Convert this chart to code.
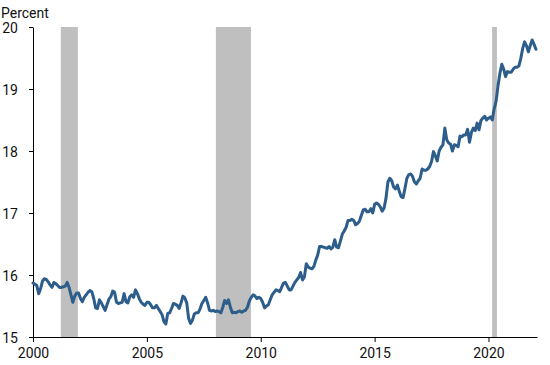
<!DOCTYPE html>
<html>
<head>
<meta charset="utf-8">
<script src="https://cdn.jsdelivr.net/npm/d3@7"></script>
<style>
  body { margin: 0; background: #fff; }
  text { font-family: Roboto, "Liberation Sans", sans-serif; fill: #111; }
</style>
</head>
<body>
<div id="chart"></div>
<script>
// monthly values, starting January 2000
const startYear = 2000;
const values2000s = [
  15.87, 15.85, 15.83, 15.70, 15.78, 15.90, 15.94, 15.93, 15.89, 15.84, 15.80, 15.88,
  15.86, 15.83, 15.80, 15.80, 15.81, 15.82, 15.88, 15.80, 15.68, 15.56, 15.66, 15.71,
  15.71, 15.62, 15.57, 15.64, 15.68, 15.72, 15.75, 15.73, 15.62, 15.47, 15.46, 15.60,
  15.55, 15.49, 15.43, 15.52, 15.61, 15.65, 15.74, 15.72, 15.56, 15.54, 15.55, 15.56,
  15.70, 15.57, 15.55, 15.65, 15.68, 15.64, 15.76, 15.70, 15.62, 15.56, 15.53, 15.51,
  15.56, 15.56, 15.52, 15.47, 15.47, 15.51, 15.46, 15.41, 15.36, 15.25, 15.21, 15.38,
  15.39, 15.46, 15.54, 15.53, 15.51, 15.46, 15.55, 15.66, 15.63, 15.55, 15.30, 15.22,
  15.27, 15.37, 15.39, 15.39, 15.45, 15.54, 15.59, 15.64, 15.55, 15.43, 15.42, 15.43,
  15.41, 15.42, 15.41, 15.39, 15.48, 15.59, 15.54, 15.60, 15.48, 15.39, 15.40, 15.39,
  15.41, 15.42, 15.40, 15.42, 15.43, 15.48, 15.58, 15.64, 15.68, 15.66, 15.62, 15.64
];
const values2010s = [
  15.62, 15.56, 15.47, 15.50, 15.52, 15.60, 15.68, 15.72, 15.76, 15.75, 15.73, 15.80,
  15.87, 15.88, 15.82, 15.76, 15.76, 15.82, 15.88, 15.92, 15.96, 16.04, 15.92, 15.97,
  16.18, 16.13, 16.11, 16.10, 16.14, 16.24, 16.32, 16.46, 16.46, 16.45, 16.44, 16.43,
  16.46, 16.42, 16.45, 16.57, 16.45, 16.44, 16.55, 16.66, 16.71, 16.77, 16.88, 16.88,
  16.90, 16.88, 16.81, 16.83, 16.87, 16.96, 17.05, 17.06, 17.02, 17.02, 17.07, 17.00,
  17.14, 17.16, 17.14, 17.10, 17.03, 17.08, 17.24, 17.50, 17.56, 17.52, 17.42, 17.39,
  17.45, 17.35, 17.26, 17.25, 17.40, 17.56, 17.62, 17.63, 17.59, 17.50, 17.47, 17.52,
  17.56, 17.71, 17.69, 17.69, 17.71, 17.75, 17.83, 17.99, 17.92, 17.84, 18.00, 18.06,
  18.10, 18.37, 18.18, 18.13, 18.11, 18.00, 18.10, 18.09, 18.07, 18.24, 18.23, 18.26,
  18.26, 18.35, 18.14, 18.30, 18.37, 18.33, 18.45, 18.34, 18.49, 18.53, 18.56, 18.50
];
const values2020s = [
  18.53, 18.55, 18.50, 18.68, 18.80, 19.05, 19.25, 19.40, 19.32, 19.20, 19.28, 19.27,
  19.27, 19.32, 19.35, 19.35, 19.37, 19.49, 19.65, 19.76, 19.70, 19.60, 19.70, 19.79,
  19.72, 19.64
];
// recession periods, in decimal years
const recessionStarts = [2001.22, 2008.03, 2020.16];
const recessionEnds = [2001.97, 2009.57, 2020.37];
const xTicks = [2000, 2005, 2010, 2015, 2020];
const yTicks = [15, 16, 17, 18, 19, 20];
const xDomain = [2000, 2022.13];
const yDomain = [15, 20];

const width = 550;
const height = 365;
const margin = { top: 27, right: 13, bottom: 28, left: 33 };

const series = values2000s.concat(values2010s, values2020s).map((v, i) => ({
  year: startYear + i / 12,
  value: v
}));

const svg = d3
  .select("#chart")
  .append("svg")
  .attr("width", width)
  .attr("height", height);

const x = d3
  .scaleLinear()
  .domain(xDomain)
  .range([margin.left, width - margin.right]);

const y = d3
  .scaleLinear()
  .domain(yDomain)
  .range([height - margin.bottom, margin.top]);

// recession shading
svg
  .append("g")
  .selectAll("rect")
  .data(recessionStarts.map((s, i) => ({ start: s, end: recessionEnds[i] })))
  .enter()
  .append("rect")
  .attr("x", d => x(d.start))
  .attr("width", d => x(d.end) - x(d.start))
  .attr("y", y(yDomain[1]))
  .attr("height", y(yDomain[0]) - y(yDomain[1]))
  .attr("fill", "#bfbfbf");

// axes
const yAxis = svg
  .append("g")
  .attr("transform", `translate(${margin.left},0)`)
  .call(
    d3
      .axisLeft(y)
      .tickValues(yTicks)
      .tickFormat(d3.format("d"))
      .tickSize(4)
      .tickSizeOuter(0)
      .tickPadding(11)
  );

const xAxis = svg
  .append("g")
  .attr("transform", `translate(0,${height - margin.bottom})`)
  .call(
    d3
      .axisBottom(x)
      .tickValues(xTicks)
      .tickFormat(d3.format("d"))
      .tickSize(5)
      .tickSizeOuter(0)
      .tickPadding(6)
  );

[yAxis, xAxis].forEach(g => {
  g.selectAll("path, line").attr("stroke", "#000");
  g.selectAll("text").style("font-size", "14px").attr("fill", "#111");
});
yAxis.selectAll("text").attr("dy", "0.36em");

// data line
const line = d3
  .line()
  .x(d => x(d.year))
  .y(d => y(d.value));

svg
  .append("path")
  .datum(series)
  .attr("d", line)
  .attr("fill", "none")
  .attr("stroke", "#2c5d8b")
  .attr("stroke-width", 3)
  .attr("stroke-linejoin", "round")
  .attr("stroke-linecap", "round");

// unit label
svg
  .append("text")
  .attr("x", 1)
  .attr("y", 18)
  .style("font-size", "14px")
  .text("Percent");
</script>
</body>
</html>
